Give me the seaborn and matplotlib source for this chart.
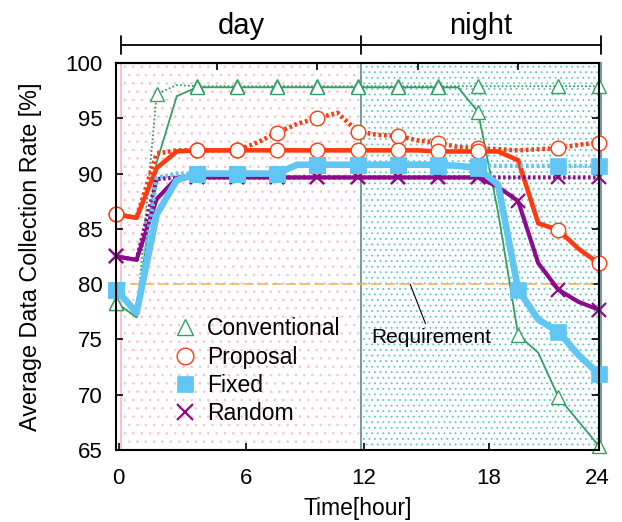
import matplotlib
matplotlib.use("Agg")
import matplotlib.pyplot as plt
import matplotlib.transforms as mtrans
from matplotlib.lines import Line2D
import seaborn as sns
import pandas as pd

# ---------------- data ----------------
hours = list(range(25))

conv_solid = [78.3, 77.0, 91.0, 97.0, 97.8, 97.8, 97.8, 97.8, 97.8, 97.8, 97.8, 97.8, 97.8,
              97.8, 97.8, 97.8, 97.8, 97.8, 95.6, 86.5, 75.4, 73.8, 69.8, 67.6, 65.4]
conv_dotted = [78.3, 77.0, 97.2, 98.0, 97.9, 97.9, 97.9, 97.9, 97.9, 97.9, 97.9, 97.9, 97.9,
               97.9, 97.9, 97.9, 97.9, 97.9, 97.9, 97.9, 97.9, 97.9, 97.9, 97.9, 97.9]

prop_solid = [86.3, 86.0, 90.5, 92.0, 92.1, 92.1, 92.1, 92.1, 92.1, 92.1, 92.1, 92.1, 92.1,
              92.1, 92.1, 92.1, 92.0, 92.0, 92.0, 92.0, 91.2, 85.5, 84.9, 83.2, 81.9]
prop_dotted = [86.3, 86.0, 91.8, 92.1, 92.1, 92.1, 92.1, 92.8, 93.7, 94.5, 95.0, 95.5, 93.8,
               93.5, 93.4, 93.0, 92.8, 92.4, 92.3, 92.2, 92.1, 92.2, 92.3, 92.6, 92.8]

fixed_solid = [79.5, 77.4, 86.3, 89.4, 90.0, 90.0, 90.0, 90.0, 90.0, 90.8, 90.8, 90.8, 90.8,
               90.8, 90.8, 90.8, 90.8, 90.7, 90.5, 89.0, 79.5, 76.8, 75.7, 73.6, 71.9]
fixed_dotted = [79.5, 77.4, 89.6, 90.0, 90.0, 90.0, 90.0, 90.0, 90.0, 90.8, 90.8, 90.8, 90.8,
                90.8, 90.8, 90.8, 90.7, 90.7, 90.7, 90.7, 90.7, 90.7, 90.7, 90.7, 90.7]

rand_solid = [82.5, 82.2, 87.7, 89.6, 89.65, 89.65, 89.65, 89.65, 89.65, 89.65, 89.65, 89.65, 89.65,
              89.65, 89.65, 89.65, 89.65, 89.65, 89.65, 88.8, 87.5, 81.9, 79.5, 78.4, 77.7]
rand_dotted = [82.5, 82.2, 89.5, 89.65, 89.65, 89.65, 89.65, 89.65, 89.65, 89.65, 89.65, 89.65, 89.65,
               89.65, 89.65, 89.65, 89.65, 89.65, 89.65, 89.65, 89.65, 89.65, 89.65, 89.65, 89.65]

# hours that carry a point symbol
marks_conv_dotted = [0, 2, 4, 6, 8, 10, 12, 14, 16, 18, 22, 24]
marks_solid = [0, 4, 6, 8, 10, 12, 14, 16, 18, 20, 22, 24]
marks_no20 = [0, 4, 6, 8, 10, 12, 14, 16, 18, 22, 24]

series_names = ["Conventional", "Proposal", "Fixed", "Random"]
requirement = 80
xtick_labels = ["0", "6", "12", "18", "24"]
ytick_values = [65, 70, 75, 80, 85, 90, 95, 100]
period_labels = ["day", "night"]
day_start, day_end, night_end = 0.21, 12.18, 24.1

# ---------------- style ----------------
sns.set_style("ticks")
plt.rcParams["font.family"] = ["Liberation Sans", "DejaVu Sans"]
plt.rcParams["hatch.linewidth"] = 0.6
for k in ["text.color", "axes.labelcolor", "xtick.color", "ytick.color", "axes.edgecolor"]:
    plt.rcParams[k] = "black"

c_conv = "#34a062"
c_prop = "#ff3b12"
c_fixed = "#62c6f4"
c_rand = "#8d0a8d"

fig = plt.figure(figsize=(6.22, 5.22), dpi=100)
ax = fig.add_axes([116.5 / 622, 72 / 522, 482 / 622, 387 / 522])

# shaded day / night regions
ax.axvspan(day_start, day_end, facecolor="white", edgecolor="#ffbfca", hatch="..", lw=1.4, zorder=0)
ax.axvspan(day_end, night_end, facecolor="white", edgecolor="#62c4c4", hatch="...", lw=0, zorder=0)
ax.axvspan(day_end, night_end, facecolor="none", edgecolor="#6c9fa2", lw=1.4, zorder=0.5, clip_on=False)

# requirement line
ax.axhline(requirement, color="#f6b35e", lw=1.2, ls=(0, (6, 2.5)), zorder=1)

dot = (0, (0.6, 0.6))


def draw(y, marks, color, lw, ls, marker, ms, mfc, mew, z):
    df = pd.DataFrame({"hour": hours, "rate": y})
    sns.lineplot(data=df, x="hour", y="rate", ax=ax, color=color, lw=lw, linestyle=ls,
                 marker=marker, markersize=ms, markerfacecolor=mfc, markeredgecolor=color,
                 markeredgewidth=mew, markevery=marks, clip_on=False, zorder=z, legend=False,
                 errorbar=None)


draw(conv_dotted, marks_conv_dotted, c_conv, 1.3, (0, (1, 1.2)), "^", 10, "white", 1.0, 2)
draw(conv_solid, marks_solid, c_conv, 1.3, "-", "^", 10, "white", 1.0, 2.1)
draw(prop_dotted, marks_no20, c_prop, 3.3, dot, "o", 10.5, "white", 1.0, 2.2)
draw(prop_solid, marks_no20, c_prop, 3.3, "-", "o", 10.5, "white", 1.0, 2.3)
draw(rand_dotted, marks_no20, c_rand, 3.0, dot, "x", 10, c_rand, 1.6, 2.4)
draw(rand_solid, marks_solid, c_rand, 3.0, "-", "x", 10, c_rand, 1.6, 2.5)
draw(fixed_dotted, marks_no20, c_fixed, 3.2, dot, "s", 11, c_fixed, 0.5, 2.6)
draw(fixed_solid, marks_solid, c_fixed, 4.8, "-", "s", 11, c_fixed, 0.5, 2.7)

# annotation
ax.annotate("Requirement", xy=(14.62, requirement), xytext=(15.66, 75.15),
            ha="center", va="center", fontsize=15, zorder=5,
            arrowprops=dict(arrowstyle="-", color="black", lw=0.8, shrinkA=1, shrinkB=0))

# axes
ax.set_xlim(0, 24)
ax.set_ylim(65, 100)
ax.set_xticks([0.1, 6.45, 12.33, 18.55, 23.95], labels=xtick_labels)
ax.set_yticks(ytick_values)
ax.tick_params(axis="x", direction="in", length=5, width=1.2, pad=13, labelsize=16, colors="black")
ax.tick_params(axis="y", direction="in", length=5, width=1.2, pad=10, labelsize=16,
               right=True, colors="black")
for s in ax.spines.values():
    s.set_visible(True)
    s.set_color("black")
    s.set_linewidth(1.5)
    s.set_zorder(3)

secax = ax.secondary_xaxis("top")
secax.set_xticks([0, 5, 10, 15, 20], labels=[])
secax.tick_params(direction="in", length=5, width=1.2, colors="black")
secax.spines["top"].set_linewidth(1.5)

ax.set_xlabel("Time[hour]", fontsize=16.5)
ax.set_ylabel("Average Data Collection Rate [%]", fontsize=16.8)
ax.xaxis.set_label_coords(0.5, -0.122)
ax.yaxis.set_label_coords(-0.155, 0.5)

# day / night bracket
trans = mtrans.blended_transform_factory(ax.transData, ax.transAxes)
yb = 1.0465
ax.plot([day_start, night_end], [yb, yb], transform=trans, color="black", lw=1.3, clip_on=False)
for xv in [day_start, day_end, night_end]:
    ax.plot([xv, xv], [yb - 0.023, yb + 0.023], transform=trans, color="black", lw=1.3,
            clip_on=False)
ax.text((day_start + day_end) / 2, 1.076, period_labels[0], transform=trans, ha="center",
        va="baseline", fontsize=21)
ax.text((day_end + night_end) / 2, 1.076, period_labels[1], transform=trans, ha="center",
        va="baseline", fontsize=21)

# legend
handles = [
    Line2D([], [], ls="none", marker="^", ms=12, mfc="white", mec=c_conv, mew=1.0),
    Line2D([], [], ls="none", marker="o", ms=12, mfc="white", mec=c_prop, mew=1.0),
    Line2D([], [], ls="none", marker="s", ms=12, mfc=c_fixed, mec=c_fixed, mew=0.5),
    Line2D([], [], ls="none", marker="x", ms=12, mfc=c_rand, mec=c_rand, mew=1.6),
]
leg = ax.legend(handles, series_names, loc="upper left", bbox_to_anchor=(0.119, 0.343),
                frameon=False, fontsize=16.5, handlelength=1.0, handletextpad=0.45,
                labelspacing=0.23, borderpad=0, borderaxespad=0)
leg.set_zorder(6)

fig.savefig("out.png", dpi=100)
